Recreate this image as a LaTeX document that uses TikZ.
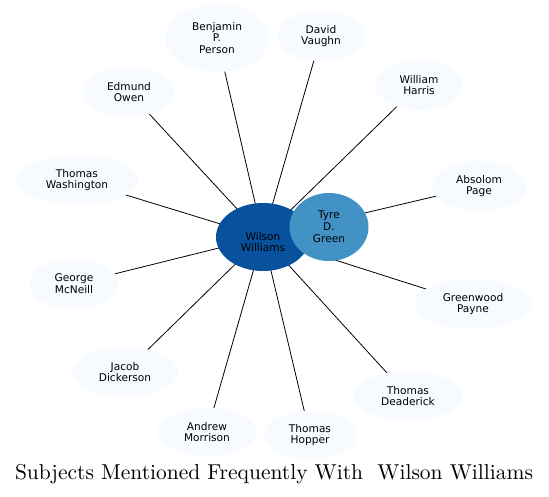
\documentclass[tikz,border=0pt]{standalone}
\usepackage{fontspec}
\setsansfont{DejaVu Sans}
\newfontfamily\titlefont{lmroman10-regular}[Extension=.otf]
\usepackage{xcolor}
\usetikzlibrary{shapes.geometric,backgrounds}

\definecolor{hubblue}{HTML}{08519C}
\definecolor{midblue}{HTML}{4292C6}
\definecolor{paleblue}{HTML}{F7FBFF}

\begin{document}
\begin{tikzpicture}[x=1pt,y=1pt,
        nodefont/.style={font=\sffamily\fontsize{10.6}{11.8}\selectfont},
        person/.style={ellipse, fill=paleblue, draw=none, inner sep=0pt,
            minimum width=#1, minimum height=50pt, align=center, nodefont},
        person/.default=90pt,
        link/.style={draw=black, line width=0.8pt}]
        \useasboundingbox (0,0) rectangle (549,-496);
        % Mittelpunkt: Wilson Williams und Tyre D. Green
        \node[ellipse, fill=hubblue, inner sep=0pt, minimum width=94pt, minimum height=68pt,
            label={[yshift=-5pt, align=center, nodefont]center:Wilson\\Williams}] (wilson) at (263,-237) {};
        \node[ellipse, fill=midblue, inner sep=0pt, minimum width=79pt, minimum height=68pt,
            align=center, nodefont] (tyre) at (329,-227) {Tyre\\D.\\Green};
        % Personen rundherum
        \node[person=104pt, minimum height=68pt] (benjamin) at (217,-38) {Benjamin\\P.\\Person};
        \node[person=88pt] (david) at (321,-36) {David\\Vaughn};
        \node[person=88pt] (william) at (419,-85) {William\\Harris};
        \node[person=90pt] (edmund) at (129,-92) {Edmund\\Owen};
        \node[person=122pt] (washington) at (77,-180) {Thomas\\Washington};
        \node[person=94pt] (absolom) at (479,-186) {Absolom\\Page};
        \node[person=90pt] (george) at (74,-284) {George\\McNeill};
        \node[person=118pt] (greenwood) at (473,-304) {Greenwood\\Payne};
        \node[person=106pt] (jacob) at (125,-372) {Jacob\\Dickerson};
        \node[person=108pt] (deaderick) at (408,-396) {Thomas\\Deaderick};
        \node[person=98pt, minimum height=48pt] (andrew) at (207,-432) {Andrew\\Morrison};
        \node[person=94pt, minimum height=48pt] (hopper) at (310,-435) {Thomas\\Hopper};
        % Verbindungen (unter den Knoten)
        \begin{scope}[on background layer]
            \foreach \n in {benjamin,david,william,edmund,washington,absolom,george,greenwood,jacob,deaderick,andrew,hopper}
                \draw[link] (wilson.center) -- (\n.center);
        \end{scope}
        % Titel
        \node[font=\titlefont\fontsize{21.5}{25}\selectfont] (title) at (274,-474) {Subjects Mentioned Frequently With~\ Wilson Williams};
    \end{tikzpicture}
\end{document}
